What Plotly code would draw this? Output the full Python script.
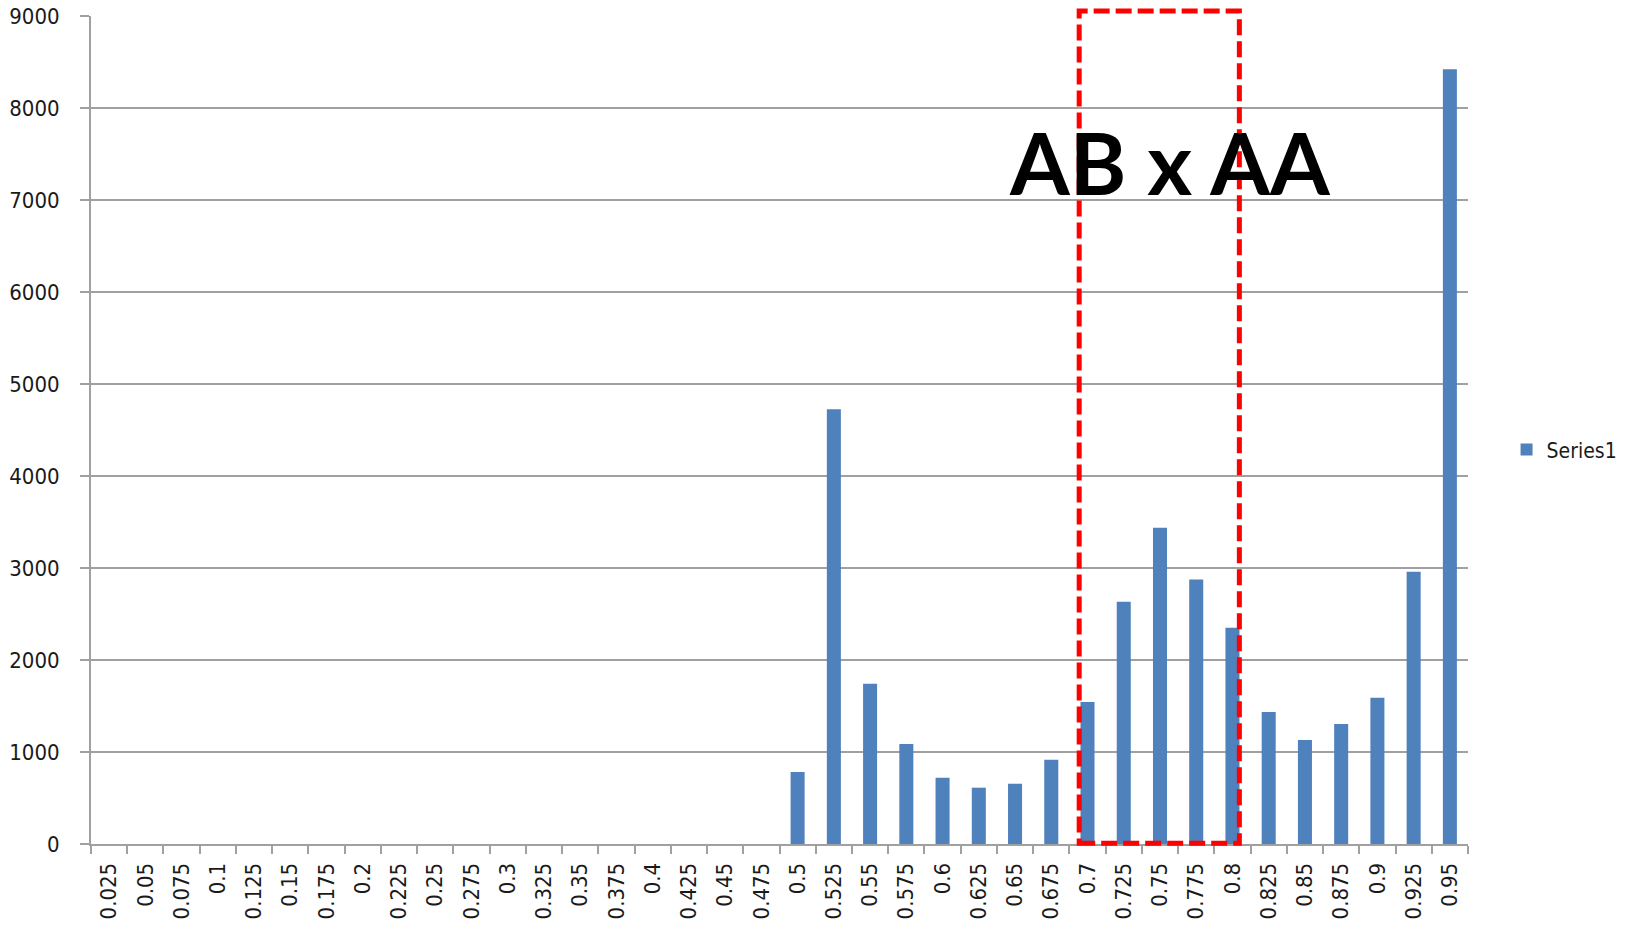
import plotly.graph_objects as go

# Bin labels (upper bound of each 0.025-wide bin)
bins = ["0.025", "0.05", "0.075", "0.1", "0.125", "0.15", "0.175", "0.2",
        "0.225", "0.25", "0.275", "0.3", "0.325", "0.35", "0.375", "0.4",
        "0.425", "0.45", "0.475", "0.5", "0.525", "0.55", "0.575", "0.6",
        "0.625", "0.65", "0.675", "0.7", "0.725", "0.75", "0.775", "0.8",
        "0.825", "0.85", "0.875", "0.9", "0.925", "0.95"]

# Counts per bin
series1 = [0, 0, 0, 0, 0, 0, 0, 0,
           0, 0, 0, 0, 0, 0, 0, 0,
           0, 0, 0, 783, 4725, 1743, 1087, 721,
           612, 655, 916, 1543, 2634, 3438, 2876, 2351,
           1435, 1130, 1304, 1590, 2960, 8420]

y_ticks = [0, 1000, 2000, 3000, 4000, 5000, 6000, 7000, 8000, 9000]

# Highlighted bin range (category index units) and its label
box_x = [26.77, 31.19]
box_label = "AB x AA"

TICK_FONT = dict(family="DejaVu Sans Condensed, Liberation Sans, sans-serif",
                 size=22, color="#1a1a1a")
GRID = "#a0a0a0"

fig = go.Figure()
fig.add_trace(go.Bar(
    x=bins, y=series1, name="Series1",
    marker=dict(color="#4f81bd", line=dict(width=0)),
))

# Dashed frame around the highlighted bins; vertical extent in paper units
# so the top edge can sit just above the plot area.
fig.add_shape(type="rect", xref="x", yref="paper",
              x0=box_x[0], x1=box_x[1], y0=0.001, y1=1.006,
              line=dict(color="#ff0000", width=5, dash="16px,6px"),
              fillcolor="rgba(0,0,0,0)", layer="above")

fig.add_annotation(x=29.28, y=7420, xref="x", yref="y",
                   text="<b>" + box_label + "</b>", showarrow=False,
                   font=dict(family="Lato, Open Sans, sans-serif", size=86,
                             color="#000000"),
                   xanchor="center", yanchor="middle")

fig.update_layout(
    width=1637, height=927,
    margin=dict(l=91, r=169, t=16, b=83, autoexpand=False),
    paper_bgcolor="white", plot_bgcolor="white",
    bargap=0.613,
    showlegend=True,
    legend=dict(x=1.028, y=0.476, xanchor="left", yanchor="middle",
                font=dict(family="DejaVu Sans Condensed, Liberation Sans, sans-serif",
                          size=21, color="#1a1a1a"),
                itemwidth=30, bgcolor="rgba(0,0,0,0)"),
    xaxis=dict(type="category", range=[-0.5, 37.5], tickangle=-90,
               tickson="boundaries", ticks="outside", ticklen=8,
               tickcolor=GRID, tickwidth=2, showline=True, linecolor=GRID,
               linewidth=2, showgrid=False, tickfont=TICK_FONT,
               ticklabelstandoff=8, automargin=False),
    yaxis=dict(range=[0, 9000], tickvals=y_ticks, ticks="outside",
               ticklen=9, tickcolor=GRID, tickwidth=2, showline=True,
               linecolor=GRID, linewidth=2, showgrid=True, gridcolor=GRID,
               gridwidth=2, zeroline=False, tickfont=TICK_FONT,
               ticklabelstandoff=16, automargin=False),
)

fig.write_html("out.html")
